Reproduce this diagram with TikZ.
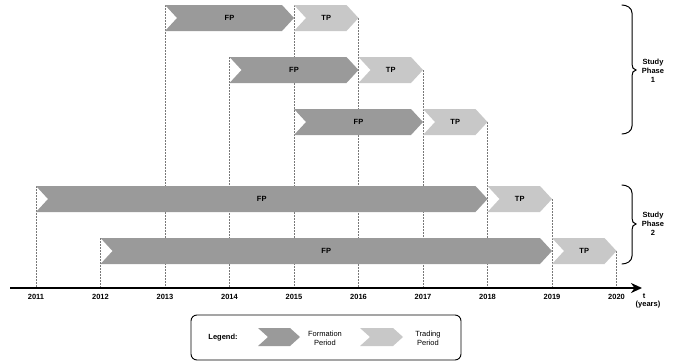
\documentclass[tikz,border=0pt]{standalone}
\usepackage{fontspec}
\setmainfont{Liberation Sans}
\usetikzlibrary{arrows.meta}
\definecolor{fpcol}{RGB}{154,154,154}
\definecolor{tpcol}{RGB}{200,200,200}
\definecolor{guide}{RGB}{120,120,120}
\tikzset{
  lbl/.style={font=\bfseries\fontsize{7.5}{9}\selectfont, inner sep=0pt},
  plain/.style={font=\fontsize{7.5}{9}\selectfont, inner sep=0pt, align=center},
  guideline/.style={guide, line width=0.6pt, dash pattern=on 1.5pt off 1.5pt},
  bracestyle/.style={line width=1pt, line cap=round},
}
% chevron: name, x1, x2, ycenter, half height, depth, colour, label
\newcommand\chevron[8]{%
  \fill[#7] (#2,#4-#5) -- (#3-#6,#4-#5) -- (#3,#4) -- (#3-#6,#4+#5) -- (#2,#4+#5) -- (#2+#6,#4) -- cycle;
  \node[lbl] (#1) at ({(#2+#3)/2},#4) {#8};}
\begin{document}
\begin{tikzpicture}[x=1pt,y=-1pt]
\useasboundingbox (0,0) rectangle (689,364);
% year positions
\def\yA{36}\def\yB{100.5}\def\yC{165}\def\yD{229.5}\def\yE{294}
\def\yF{358.5}\def\yG{423}\def\yH{487.5}\def\yI{552}\def\yJ{616.5}
% guide lines
\coordinate (ax) at (0,288);
\foreach \x/\t in {\yA/186,\yB/238,\yC/5,\yD/57,\yE/5,\yF/18,\yG/70,\yH/122,\yI/199,\yJ/251}{
  \draw[guideline] (\x,\t) -- (\x,288);
}
% chevrons
\chevron{fp1}{\yC}{\yE}{18}{13}{12}{fpcol}{FP}
\chevron{tp1}{\yE}{\yF}{18}{13}{12}{tpcol}{TP}
\chevron{fp2}{\yD}{\yF}{70}{13}{12}{fpcol}{FP}
\chevron{tp2}{\yF}{\yG}{70}{13}{12}{tpcol}{TP}
\chevron{fp3}{\yE}{\yG}{122}{13}{12}{fpcol}{FP}
\chevron{tp3}{\yG}{\yH}{122}{13}{12}{tpcol}{TP}
\chevron{fp4}{\yA}{\yH}{199}{13}{12}{fpcol}{FP}
\chevron{tp4}{\yH}{\yI}{199}{13}{12}{tpcol}{TP}
\chevron{fp5}{\yB}{\yI}{251}{13}{12}{fpcol}{FP}
\chevron{tp5}{\yI}{\yJ}{251}{13}{12}{tpcol}{TP}
% axis
\coordinate (axs) at (10,288);
\coordinate (axe) at (642,288);
\draw[line width=2.4pt, -{Stealth[length=11pt,width=10pt]}] (axs) -- (axe);
\foreach \x/\n in {\yA/2011,\yB/2012,\yC/2013,\yD/2014,\yE/2015,\yF/2016,\yG/2017,\yH/2018,\yI/2019,\yJ/2020}{
  \node[lbl] at (\x,297) {\n};
}
\node[lbl] (t) at (644,296) {t};
\node[lbl] (yrs) at (648,305) {(years)};
% braces
\draw[bracestyle] (622,5) to[out=0,in=90] (632,13) -- (632,64) to[out=-90,in=180] (636,70) to[out=180,in=90] (632,76) -- (632,126) to[out=-90,in=0] (622,134);
\node[lbl, align=center] (sp1) at (653,71) {Study\\Phase\\1};
\draw[bracestyle] (622,185) to[out=0,in=90] (632,193) -- (632,218) to[out=-90,in=180] (636,224) to[out=180,in=90] (632,230) -- (632,256) to[out=-90,in=0] (622,264);
\node[lbl, align=center] (sp2) at (653,224) {Study\\Phase\\2};
% legend
\draw[line width=0.9pt, rounded corners=6pt] (191,315) rectangle (461,360);
\node[lbl] (leg) at (223,338) {Legend:};
\chevron{lfp}{258}{300}{337}{9}{10}{fpcol}{}
\node[plain] (lfpt) at (325,338.5) {Formation\\Period};
\chevron{ltp}{360}{403}{337}{9}{10}{tpcol}{}
\node[plain] (ltpt) at (428,338.5) {Trading\\Period};
\end{tikzpicture}
\end{document}
